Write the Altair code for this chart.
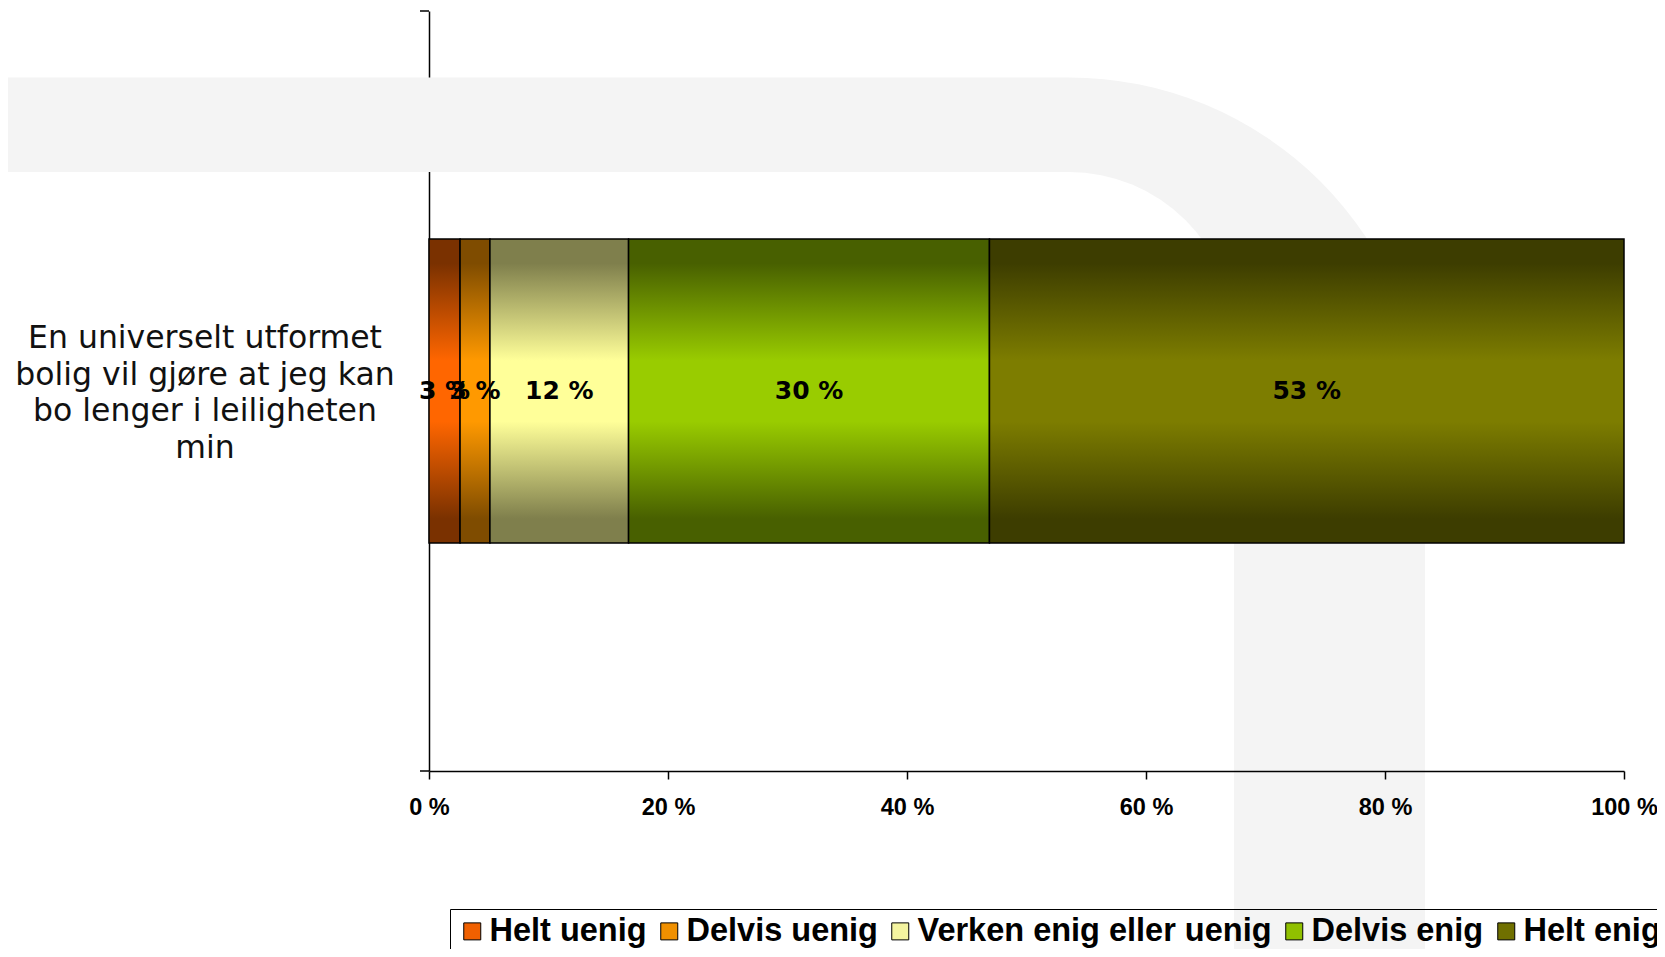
import altair as alt
import pandas as pd

# ---------------- data ----------------
question_key = ["Q1"]
question_text = ["En universelt utformet\nbolig vil gjøre at jeg kan\nbo lenger i leiligheten\nmin"]
categories = ["Helt uenig", "Delvis uenig", "Verken enig eller uenig", "Delvis enig", "Helt enig"]
values = [2.6, 2.5, 11.6, 30.2, 53.1]
labels = ["3 %", "3 %", "12 %", "30 %", "53 %"]
bright = ["#ff6600", "#ff9900", "#ffff99", "#99cc00", "#7d7d00"]
dark = ["#7a3100", "#7f4c00", "#7f7f4c", "#486000", "#3d3d00"]
legend_colors = ["#f06000", "#f09000", "#f4f4a0", "#90c000", "#707000"]
tick_values = [0, 20, 40, 60, 80, 100]

df = pd.DataFrame({
    "q": question_key * len(categories),
    "cat": categories,
    "value": values,
    "label": labels,
    "idx": list(range(len(categories))),
})
qdf = pd.DataFrame({"q": question_key, "qtext": question_text})
one = pd.DataFrame({"a": [0]})

W, H = 1195, 760
BG = "#f4f4f4"
LINE_H = 36.6


def grad(d, b):
    return {
        "gradient": "linear", "x1": 0, "y1": 0, "x2": 0, "y2": 1,
        "stops": [
            {"offset": 0.0, "color": d},
            {"offset": 0.08, "color": d},
            {"offset": 0.4, "color": b},
            {"offset": 0.6, "color": b},
            {"offset": 0.92, "color": d},
            {"offset": 1.0, "color": d},
        ],
    }


conds = [
    {"test": f"datum.cat === '{c}'", "value": grad(d, b)}
    for c, d, b in zip(categories[:-1], dark[:-1], bright[:-1])
]
fill_def = {"condition": conds, "value": grad(dark[-1], bright[-1])}

# ---------------- decorative background ----------------
bg_h = alt.Chart(one).mark_rect(color=BG).encode(
    x=alt.value(-429), x2=alt.value(640), y=alt.value(66.5), y2=alt.value(161)
)
bg_outer = alt.Chart(one).mark_arc(color=BG, theta=0, theta2=1.5708, radius=356, radius2=0).encode(
    x=alt.value(640), y=alt.value(422.5)
)
bg_inner = alt.Chart(one).mark_arc(color="white", theta=0, theta2=1.5708, radius=165, radius2=0).encode(
    x=alt.value(640), y=alt.value(326)
)
bg_v = alt.Chart(one).mark_rect(color=BG).encode(
    x=alt.value(805), x2=alt.value(996), y=alt.value(392), y2=alt.value(960)
)

# ---------------- scales / axes ----------------
x_scale = alt.Scale(domain=[0, 100], nice=False, zero=True)
y_scale = alt.Scale(domain=question_key, paddingInner=0.6, paddingOuter=0.3)

x_axis = alt.Axis(
    values=tick_values, labelExpr="datum.value + ' %'", title=None, grid=False,
    tickSize=8, tickColor="black", tickWidth=1.5, domainColor="black", domainWidth=1.5,
    labelFont="Liberation Sans", labelFontWeight="bold", labelFontSize=23.5,
    labelColor="black", labelPadding=16, labelFlush=False, labelOverlap=False,
    zindex=1,
)
y_axis = alt.Axis(labels=False, ticks=False, title=None, domainColor="black", domainWidth=1.5)

base = alt.Chart(df).transform_window(
    cum="sum(value)", sort=[alt.SortField("idx")], frame=[None, 0]
).transform_calculate(
    start="datum.cum - datum.value", mid="datum.cum - datum.value / 2"
)

bars = base.mark_bar(stroke="black", strokeWidth=1.5).encode(
    x=alt.X("start:Q", scale=x_scale, axis=x_axis),
    x2="cum:Q",
    y=alt.Y("q:N", scale=y_scale, axis=y_axis),
    fill=fill_def,
)

bar_text = base.mark_text(
    font="DejaVu Sans", fontWeight="bold", fontSize=25, color="black",
    align="center", baseline="middle",
).encode(
    x=alt.X("mid:Q", scale=x_scale),
    y=alt.Y("q:N", scale=y_scale),
    text="label:N",
)

cat_text = alt.Chart(qdf).mark_text(
    font="DejaVu Sans", fontSize=31.5, color="#111111", align="center",
    baseline="middle", lineBreak="\n", lineHeight=LINE_H, dy=-1.5 * LINE_H + 3,
).encode(
    x=alt.value(-224),
    y=alt.Y("q:N", scale=y_scale),
    text="qtext:N",
)

legend_layer = alt.Chart(df).mark_square(size=0, opacity=1, filled=True).encode(
    x=alt.value(0), y=alt.value(0),
    color=alt.Color(
        "cat:N",
        scale=alt.Scale(domain=categories, range=legend_colors),
        sort=categories,
        legend=alt.Legend(
            orient="none", legendX=21, legendY=898, direction="horizontal", columns=5,
            title=None, labelFont="Liberation Sans", labelFontWeight="bold",
            labelFontSize=32.5, labelColor="black", labelLimit=1000,
            symbolType="square", symbolSize=289, symbolStrokeColor="black",
            symbolStrokeWidth=1, symbolOpacity=1, labelOffset=1, columnPadding=6,
            padding=6, strokeColor="black",
        ),
    ),
)

tick_top = alt.Chart(one).mark_rule(color="black", strokeWidth=1.5).encode(
    x=alt.value(-9), x2=alt.value(0), y=alt.value(0)
)
tick_bottom = alt.Chart(one).mark_rule(color="black", strokeWidth=1.5).encode(
    x=alt.value(-9), x2=alt.value(0), y=alt.value(H)
)

chart = alt.layer(
    bg_h, bg_outer, bg_inner, bg_v, bars, bar_text, cat_text, legend_layer, tick_top, tick_bottom
).properties(
    width=W, height=H,
    padding={"left": 421, "top": 3, "right": 33, "bottom": 178},
    autosize=alt.AutoSizeParams(type="none"),
    background="white",
).configure_view(stroke=None)

chart.save("out.html", embed_options={"renderer": "svg", "actions": False})
